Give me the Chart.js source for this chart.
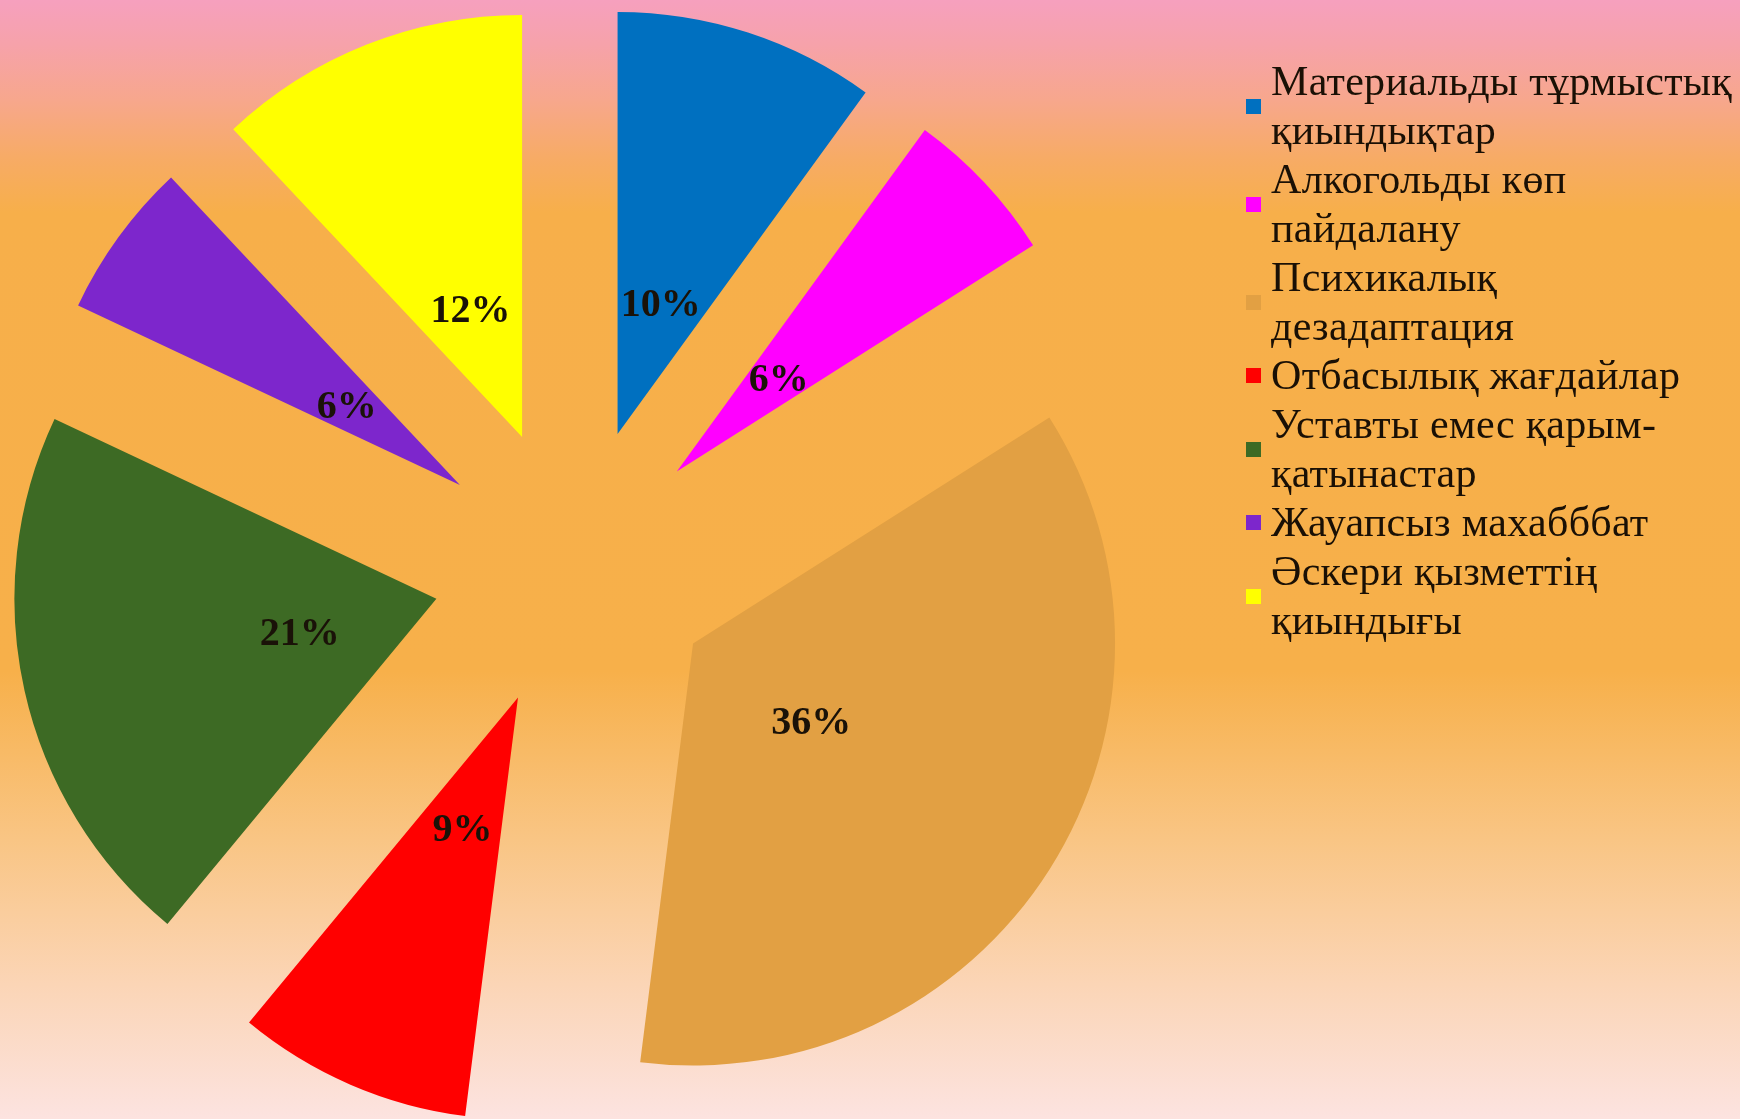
<!DOCTYPE html>
<html lang="kk">
<head>
  <meta charset="UTF-8" />
  <title>Pie</title>
  <script src="https://cdn.jsdelivr.net/npm/chart.js@4.4.0/dist/chart.umd.min.js"></script>
  <style>
    html, body { margin: 0; padding: 0; }
    body {
      width: 1740px; height: 1119px; overflow: hidden; position: relative;
      background: linear-gradient(to bottom, #f6a0be 0%, #f6a2aa 4%, #f7a78c 9%, #f7ab66 14%, #f7af4a 19%, #f7b04a 60%, #f9c584 75%, #fbd5b6 88%, #fce3e0 100%);
    }
    #wrap { position: absolute; left: 0; top: 0; width: 1740px; height: 1119px; }
    #legend {
      position: absolute; left: 1246px; top: 57px;
      font-family: "Liberation Serif", "DejaVu Serif", serif;
      font-size: 42px; line-height: 49px; color: #1a1005;
      letter-spacing: 0.3px;
    }
    .item { display: flex; align-items: center; }
    .box { width: 15px; height: 15px; margin-right: 10px; flex: none; }
  </style>
</head>
<body>
  <div id="wrap"><canvas id="chart"></canvas></div>
  <div id="legend"></div>

  <script>
    // дерек
    const categories = [
      ['Материальды тұрмыстық', 'қиындықтар'],
      ['Алкогольды көп', 'пайдалану'],
      ['Психикалық', 'дезадаптация'],
      ['Отбасылық жағдайлар'],
      ['Уставты емес қарым-', 'қатынастар'],
      ['Жауапсыз махабббат'],
      ['Әскери қызметтің', 'қиындығы']
    ];
    const values = [10, 6, 36, 9, 21, 6, 12];
    const colors = ['#0070c0', '#ff00ff', '#e2a043', '#ff0000', '#3d6a24', '#7d26cc', '#ffff00'];

    const EXPLODE = 141;   // slice offset from centre
    const LABEL_DIST = 140; // label distance from slice tip

    // draw each arc moved out along its bisector
    const explodePlugin = {
      id: 'explode',
      beforeDatasetDraw(chart, args) {
        const ctx = chart.ctx;
        args.meta.data.forEach(arc => {
          const mid = (arc.startAngle + arc.endAngle) / 2;
          ctx.save();
          ctx.translate(Math.cos(mid) * EXPLODE, Math.sin(mid) * EXPLODE);
          arc.draw(ctx);
          ctx.restore();
        });
        return false;
      },
      afterDraw(chart) {
        const ctx = chart.ctx;
        const meta = chart.getDatasetMeta(0);
        const total = values.reduce((a, b) => a + b, 0);
        ctx.save();
        ctx.font = 'bold 40px "Liberation Serif", serif';
        ctx.fillStyle = '#1a1208';
        ctx.textAlign = 'center';
        ctx.textBaseline = 'middle';
        meta.data.forEach((arc, i) => {
          const mid = (arc.startAngle + arc.endAngle) / 2;
          const d = EXPLODE + LABEL_DIST;
          const pct = Math.round(values[i] / total * 100) + '%';
          ctx.fillText(pct, arc.x + Math.cos(mid) * d, arc.y + Math.sin(mid) * d + 5);
        });
        ctx.restore();
      }
    };

    const chart = new Chart(document.getElementById('chart'), {
      type: 'pie',
      data: {
        labels: categories,
        datasets: [{
          data: values,
          backgroundColor: colors,
          borderWidth: 0
        }]
      },
      options: {
        responsive: true,
        maintainAspectRatio: false,
        animation: false,
        radius: 422,
        layout: { padding: { left: 0, right: 592, top: 17, bottom: 0 } },
        plugins: {
          legend: { display: false },
          tooltip: { enabled: false }
        }
      },
      plugins: [explodePlugin]
    });

    // legend
    const legend = document.getElementById('legend');
    categories.forEach((lines, i) => {
      const item = document.createElement('div');
      item.className = 'item';
      const box = document.createElement('span');
      box.className = 'box';
      box.style.background = colors[i];
      const txt = document.createElement('span');
      txt.innerHTML = lines.join('<br>');
      item.appendChild(box);
      item.appendChild(txt);
      legend.appendChild(item);
    });
  </script>
</body>
</html>
